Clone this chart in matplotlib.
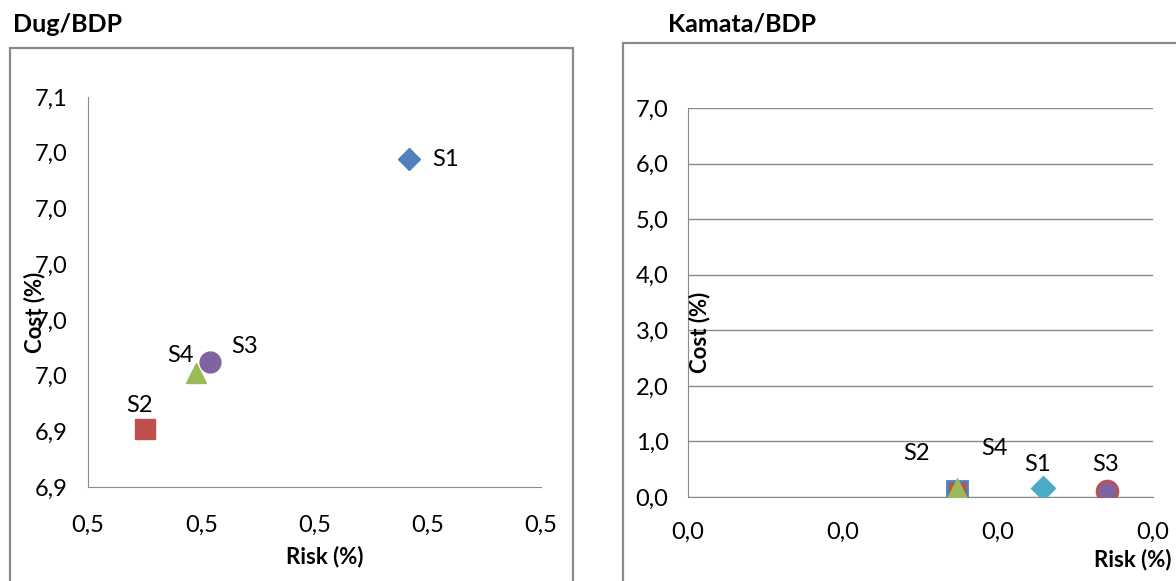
import numpy as np
import matplotlib
matplotlib.use('Agg')
import matplotlib.pyplot as plt
from matplotlib.patches import Rectangle
from matplotlib.ticker import FuncFormatter

plt.rcParams['font.family'] = ['Lato', 'DejaVu Sans']

# scenarios
labels = ['S1', 'S2', 'S3', 'S4']
markers = ['D', 's', 'o', '^']

# Dug/BDP
dug_risk = [0.5167, 0.4701, 0.4815, 0.4791]
dug_cost = [7.0377, 6.9408, 6.9649, 6.9609]
dug_colors = ['#4F81BD', '#C0504D', '#8064A2', '#9BBB59']
dug_edges = ['#4F81BD', '#C0504D', '#8064A2', '#9BBB59']
dug_offsets = [(26, 0), (-4, 17), (25, 11), (-11, 13)]

# Kamata/BDP
kam_risk = [0.0229, 0.01735, 0.0270, 0.01735]
kam_cost = [0.16, 0.108, 0.11, 0.12]
kam_colors = ['#4BACC6', '#C0504D', '#8064A2', '#9BBB59']
kam_edges = ['#4BACC6', '#4F81BD', '#C0504D', '#9BBB59']
kam_offsets = [(-4, 17), (-29, 27), (-1, 19), (27, 30)]

W, H = 1176, 581
fig = plt.figure(figsize=(W / 100, H / 100), dpi=100)


def px_axes(x0, y0, x1, y1):
    return fig.add_axes([x0 / W, 1 - y1 / H, (x1 - x0) / W, (y1 - y0) / H])


def comma(fmt):
    return FuncFormatter(lambda v, p: fmt.format(v).replace('.', ','))


# outer boxes
fig.patches.append(Rectangle((10 / W, -0.05), 563 / W, 1.05 - 48 / H, transform=fig.transFigure,
                             fill=False, ec='#8a8a8a', lw=1.6))
fig.patches.append(Rectangle((623 / W, -0.05), 0.6, 1.05 - 43 / H, transform=fig.transFigure,
                             fill=False, ec='#8a8a8a', lw=1.6))

fig.text(13 / W, 1 - 24 / H, 'Dug/BDP', fontsize=18, fontweight='bold', va='center', ha='left')
fig.text(668 / W, 1 - 24 / H, 'Kamata/BDP', fontsize=18, fontweight='bold', va='center', ha='left')

# left chart
ax1 = px_axes(88, 97, 541, 487)
for i in range(len(labels)):
    ax1.plot(dug_risk[i], dug_cost[i], marker=markers[i], ms=15 if markers[i] != 'D' else 11,
             color=dug_colors[i], mec=dug_edges[i], ls='none')
    ax1.annotate(labels[i], (dug_risk[i], dug_cost[i]), xytext=dug_offsets[i],
                 textcoords='offset points', ha='center', va='center', fontsize=17)
ax1.set_xlim(0.46, 0.54)
ax1.set_ylim(6.92, 7.06)
ax1.set_xticks(np.arange(0.46, 0.5401, 0.02))
ax1.set_yticks(np.arange(6.92, 7.0601, 0.02))
ax1.xaxis.set_major_formatter(comma('{:.1f}'))
ax1.yaxis.set_major_formatter(comma('{:.1f}'))
ax1.tick_params(axis='both', length=0, labelsize=17)
ax1.tick_params(axis='y', pad=15)
ax1.tick_params(axis='x', pad=20)
for s in ['top', 'right']:
    ax1.spines[s].set_visible(False)
for s in ['left', 'bottom']:
    ax1.spines[s].set_color('#8a8a8a')
fig.text(325 / W, 1 - 557 / H, 'Risk (%)', fontsize=16, fontweight='bold', ha='center', va='center')
fig.text(35 / W, 1 - 312 / H, 'Cost (%)', fontsize=16, fontweight='bold', ha='center', va='center',
         rotation=90)

# right chart
ax2 = px_axes(688, 108, 1153, 497)
for i in range(len(labels)):
    ax2.plot(kam_risk[i], kam_cost[i], marker=markers[i], ms=15 if markers[i] != 'D' else 11,
             color=kam_colors[i], mec=kam_edges[i], mew=2, ls='none', zorder=3 + i)
    ax2.annotate(labels[i], (kam_risk[i], kam_cost[i]), xytext=kam_offsets[i],
                 textcoords='offset points', ha='center', va='center', fontsize=17)
ax2.set_xlim(0, 0.03)
ax2.set_ylim(0, 7)
ax2.set_xticks(np.arange(0, 0.0301, 0.01))
ax2.set_yticks(np.arange(0, 7.01, 1))
ax2.xaxis.set_major_formatter(comma('{:.1f}'))
ax2.yaxis.set_major_formatter(comma('{:.1f}'))
ax2.yaxis.grid(True, color='#8a8a8a', lw=1)
ax2.set_axisbelow(True)
ax2.tick_params(axis='both', length=0, labelsize=17)
ax2.tick_params(axis='y', pad=14)
ax2.tick_params(axis='x', pad=18)
for s in ['top', 'right']:
    ax2.spines[s].set_visible(False)
for s in ['left', 'bottom']:
    ax2.spines[s].set_color('#8a8a8a')
fig.text(1133 / W, 1 - 560 / H, 'Risk (%)', fontsize=16, fontweight='bold', ha='center', va='center')
fig.text(700 / W, 1 - 332 / H, 'Cost (%)', fontsize=16, fontweight='bold', ha='center', va='center',
         rotation=90)

fig.savefig('out.png', dpi=100)
